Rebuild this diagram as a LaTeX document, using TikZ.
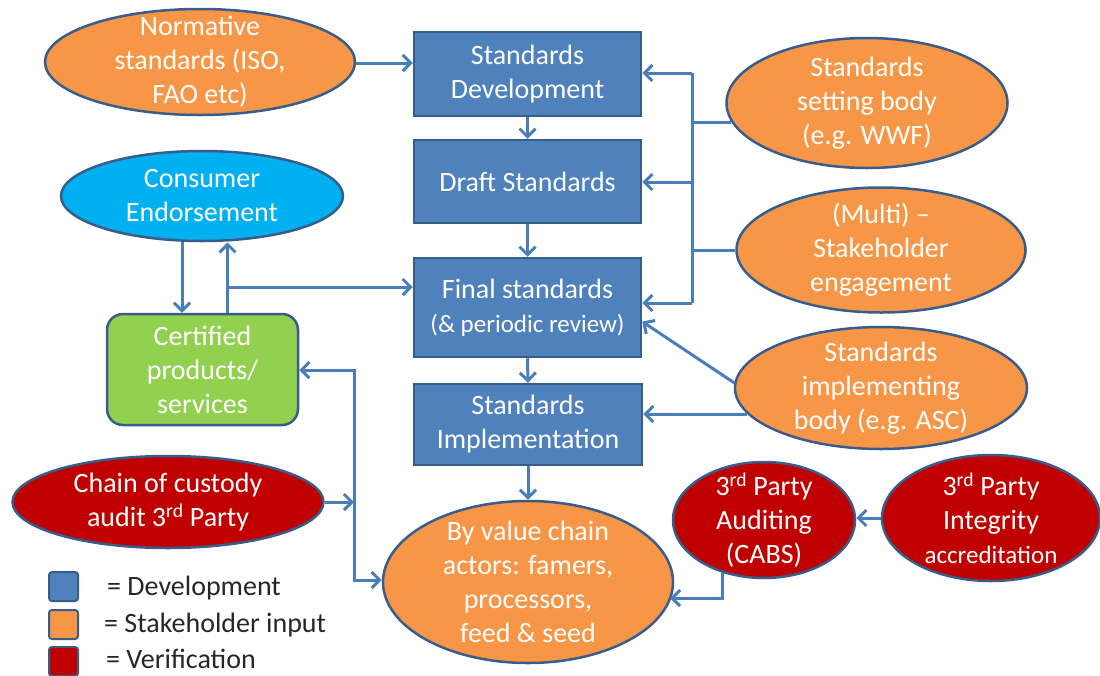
\documentclass[tikz,border=0pt]{standalone}
\usepackage{fontspec}
\setmainfont{Carlito}
\usetikzlibrary{shapes.geometric,arrows.meta}
\definecolor{boxblue}{HTML}{4F81BD}
\definecolor{edgeblue}{HTML}{385D8A}
\definecolor{lineblue}{HTML}{4A7EBB}
\definecolor{orng}{HTML}{F79646}
\definecolor{dred}{HTML}{C00000}
\definecolor{cyanb}{HTML}{00B0F0}
\definecolor{grn}{HTML}{92D050}
\definecolor{legtext}{HTML}{262626}
\newcommand\bigfnt{\fontsize{28}{34}\selectfont}
\newcommand\smallfnt{\fontsize{25}{29}\selectfont}
\begin{document}
\begin{tikzpicture}[x=1pt,y=-1pt,
  devbox/.style={rectangle, fill=boxblue, draw=edgeblue, line width=2.5pt, inner sep=0pt,
    text=white, align=center, font=\bigfnt},
  ell/.style={ellipse, draw=edgeblue, line width=2.5pt, inner sep=0pt},
  lbl/.style={text=white, align=center, font=\bigfnt, inner sep=0pt},
  tip/.style={-{Straight Barb[length=8pt,width=16pt]}},
  conn/.style={draw=lineblue, line width=3pt, tip},
  both/.style={draw=lineblue, line width=3pt, {Straight Barb[length=8pt,width=16pt]}-{Straight Barb[length=8pt,width=16pt]}},
  plain/.style={draw=lineblue, line width=3pt},
  legsq/.style={rectangle, rounded corners=3pt, draw=edgeblue, line width=2pt, minimum width=29pt, minimum height=29pt, inner sep=0pt},
  legtxt/.style={text=legtext, font=\bigfnt, inner sep=0pt, anchor=west},
]
\useasboundingbox (0,0) rectangle (1100,675);

% central development boxes
\node[devbox, minimum width=227pt, minimum height=84pt] (sd) at (527.5,74) {Standards\\Development};
\node[devbox, minimum width=227pt, minimum height=83pt] (ds) at (527.5,181.5) {Draft Standards};
\node[devbox, minimum width=227pt, minimum height=99pt] (fs) at (527.5,307.5) {Final standards\\{\smallfnt (\& periodic review)}};
\node[devbox, minimum width=228pt, minimum height=81pt] (si) at (528,424.5) {Standards\\Implementation};

% ellipses
\node[ell, fill=orng, minimum width=310pt, minimum height=106pt,
  label={[lbl]center:{Normative\\standards (ISO,\\FAO etc)}}] (norm) at (200,62) {};
\node[ell, fill=orng, minimum width=281pt, minimum height=130pt,
  label={[lbl]center:{Standards\\setting body\\(e.g. WWF)}}] (ssb) at (867,103) {};
\node[ell, fill=orng, minimum width=289pt, minimum height=125pt,
  label={[lbl]center:{(Multi) --\\Stakeholder\\engagement}}] (multi) at (881,250) {};
\node[ell, fill=orng, minimum width=292pt, minimum height=122pt,
  label={[lbl]center:{Standards\\implementing\\body (e.g. ASC)}}] (sib) at (881,388) {};
\node[ell, fill=cyanb, minimum width=282pt, minimum height=90pt,
  label={[lbl]center:{Consumer\\Endorsement}}] (cons) at (202,196) {};
\node[rectangle, rounded corners=16pt, fill=grn, draw=edgeblue, line width=2.5pt,
  minimum width=191pt, minimum height=111pt, inner sep=0pt,
  text=white, align=center, font=\bigfnt] (cert) at (202.5,369.5) {Certified\\products/\\services};
\node[ell, fill=dred, minimum width=311pt, minimum height=92pt,
  label={[lbl]center:{Chain of custody\\audit 3\textsuperscript{rd} Party}}] (chain) at (168,502) {};
\node[ell, fill=orng, minimum width=290pt, minimum height=162pt,
  label={[lbl]center:{By value chain\\actors: famers,\\processors,\\feed \& seed}}] (value) at (528,582) {};
\node[ell, fill=dred, minimum width=182pt, minimum height=116pt,
  label={[lbl]center:{3\textsuperscript{rd} Party\\Auditing\\(CABS)}}] (aud) at (764,520) {};
\node[ell, fill=dred, minimum width=218pt, minimum height=126pt,
  label={[lbl]center:{3\textsuperscript{rd} Party\\Integrity\\{\smallfnt accreditation}}}] (integ) at (991,518) {};

% helper coordinates
\coordinate (busTop) at (692,73);
\coordinate (busD) at (692,182);
\coordinate (busBot) at (692,303);
\coordinate (br) at (227.5,287);
\coordinate (lTop) at (354,370);
\coordinate (lBot) at (354,580);
\coordinate (normY) at (355,63);
\coordinate (audC) at (723,598);
\coordinate (valR) at (670,598);

% central flow
\draw[conn] (norm.east |- normY) -- (normY -| sd.west);
\draw[conn] (sd.south) -- (ds.north);
\draw[conn] (ds.south) -- (fs.north);
\draw[conn] (fs.south) -- (si.north);
\draw[conn] (si.south) -- (value.north);

% right bus
\draw[plain] (busTop) -- (busBot);
\draw[conn] (busTop) -- (busTop -| sd.east);
\draw[conn] (busD) -- (busD -| ds.east);
\draw[conn] (busBot) -- (busBot -| fs.east);
\draw[plain] (ssb.188) -- (ssb.188 -| busTop);
\draw[plain] (multi.west) -- (multi.west -| busTop);
\draw[conn] (sib.178) -- (fs.-7);
\draw[conn] (sib.191) -- (sib.191 -| si.east);

% verification
\draw[conn] (integ.west) -- (integ.west -| aud.east);
\draw[conn] (aud.232) -- (aud.232 |- audC) -- (valR);

% left side
\draw[conn] ([xshift=-20pt]cons.south) -- ([xshift=-20pt]cons.south |- cert.north);
\draw[conn] ([xshift=25pt]cert.north) -- ([xshift=25pt]cert.north |- cons.south);
\draw[conn] (br) -- (br -| fs.west);
\draw[both] (lTop -| cert.east) -- (lTop) -- (lBot) -- (lBot -| value.west);
\draw[conn] (chain.east) -- (chain.east -| lTop);

% legend
\node[legsq, fill=boxblue] (lg1) at (63.5,586.5) {};
\node[legsq, fill=orng] (lg2) at (63.5,624.5) {};
\node[legsq, fill=dred] (lg3) at (63.5,661.5) {};
\node[legtxt] (lt1) at (107,588) {= Development};
\node[legtxt] (lt2) at (104,625) {= Stakeholder input};
\node[legtxt] (lt3) at (106,659) {= Verification};
\end{tikzpicture}
\end{document}
